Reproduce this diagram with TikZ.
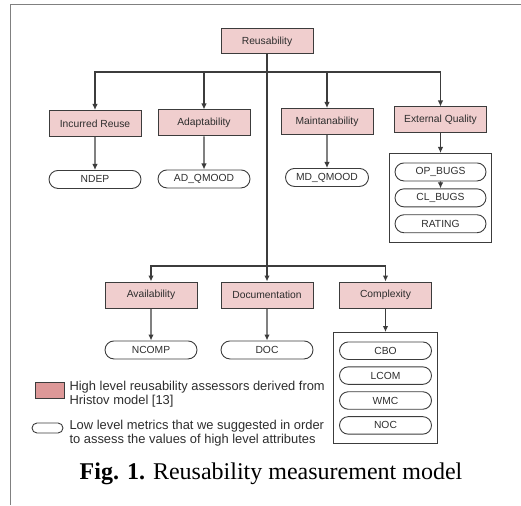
\documentclass[tikz,border=0pt]{standalone}
\usepackage{fontspec}
\setmainfont{Liberation Serif}
\setsansfont{Liberation Sans}
\usetikzlibrary{positioning,arrows.meta,fit,shapes.misc}
\definecolor{hlfill}{RGB}{240,206,206}
\definecolor{keyfill}{RGB}{221,152,152}
\definecolor{lnc}{RGB}{60,60,60}
\definecolor{txc}{RGB}{45,45,45}

\begin{document}
\begin{tikzpicture}[x=1pt, y=-1pt,
  font=\sffamily\fontsize{10.3}{12}\selectfont, color=lnc, text=txc,
  attr/.style={draw, line width=1pt, fill=hlfill, minimum width=92pt, minimum height=26pt, inner sep=0pt},
  metric/.style={draw, line width=0.9pt, rounded rectangle, minimum width=92pt, minimum height=18pt, inner sep=0pt},
  group/.style={draw, line width=1pt, inner xsep=5.5pt, inner ysep=9pt},
  keytext/.style={anchor=west, align=left, inner sep=0pt, font=\sffamily\fontsize{12.9}{14.5}\selectfont},
  node distance=33pt, >={Latex[length=6pt,width=5.5pt]}, every path/.style={line width=1.1pt}]
\useasboundingbox (0,0) rectangle (521,505);
\draw[line width=1pt, gray] (521,5) -- (10,5) -- (10,505);
% top level
\node[attr, minimum height=25pt] (reuse) at (267,41.5) {Reusability};
\node[attr] (incur) at (95,123.5) {Incurred Reuse};
\node[attr] (adapt) at (204,123) {Adaptability};
\node[attr] (maint) at (327,121.5) {Maintanability};
\node[attr] (extq) at (440.5,120) {External Quality};
\node[metric, below=of incur] (ndep) {NDEP};
\node[metric, below=of adapt] (adq) {AD\_QMOOD};
\node[metric, minimum width=83pt, below=of maint] (mdq) {MD\_QMOOD};
\node[metric, minimum width=91pt, below=29pt of extq] (opbug) {OP\_BUGS};
\node[metric, minimum width=91pt, below=7pt of opbug] (clbug) {CL\_BUGS};
\node[metric, minimum width=91pt, below=7pt of clbug] (rating) {RATING};
\node[group, fit=(opbug)(clbug)(rating)] (extbox) {};
% lower level
\node[attr] (avail) at (151,295) {Availability};
\node[attr] (docu) at (267,295) {Documentation};
\node[attr] (cmpx) at (385.5,295) {Complexity};
\node[metric, below=32pt of avail] (ncomp) {NCOMP};
\node[metric, below=32pt of docu] (docm) {DOC};
\node[metric, minimum height=17.5pt, below=33pt of cmpx] (cbo) {CBO};
\node[metric, minimum height=17.5pt, below=6.5pt of cbo] (lcom) {LCOM};
\node[metric, minimum height=17.5pt, below=6.5pt of lcom] (wmc) {WMC};
\node[metric, minimum height=17.5pt, below=6.5pt of wmc] (noc) {NOC};
\node[group, fit=(cbo)(lcom)(wmc)(noc)] (cpxbox) {};
% connectors
\coordinate (hub) at (267,72);
\coordinate (hublow) at (267,266);
\draw[->] (reuse) -- (docu);
\foreach \n in {incur,adapt,maint,extq} \draw[->] (hub) -| (\n);
\foreach \n in {avail,cmpx} \draw[->] (hublow) -| (\n);
\foreach \a/\b in {incur/ndep, adapt/adq, maint/mdq, extq/extbox, opbug/clbug, avail/ncomp, docu/docm, cmpx/cpxbox}
  \draw[->] (\a) -- (\b);
% legend
\node[draw, line width=1pt, fill=keyfill, minimum width=29pt, minimum height=16pt, inner sep=0pt] (keyhi) at (49.5,390) {};
\node[metric, minimum width=31pt, minimum height=10pt] (keylo) at (47.5,428) {};
\node[keytext] (keyhitxt) at (69,394) {High level reusability assessors derived from\\Hristov model [13]};
\node[keytext] (keylotxt) at (69,433) {Low level metrics that we suggested in order\\to assess the values of high level attributes};
% caption
\node[font=\rmfamily\fontsize{24}{28}\selectfont, text=black] (cap) at (271,474) {\textbf{Fig. 1.} Reusability measurement model};
\end{tikzpicture}
\end{document}
